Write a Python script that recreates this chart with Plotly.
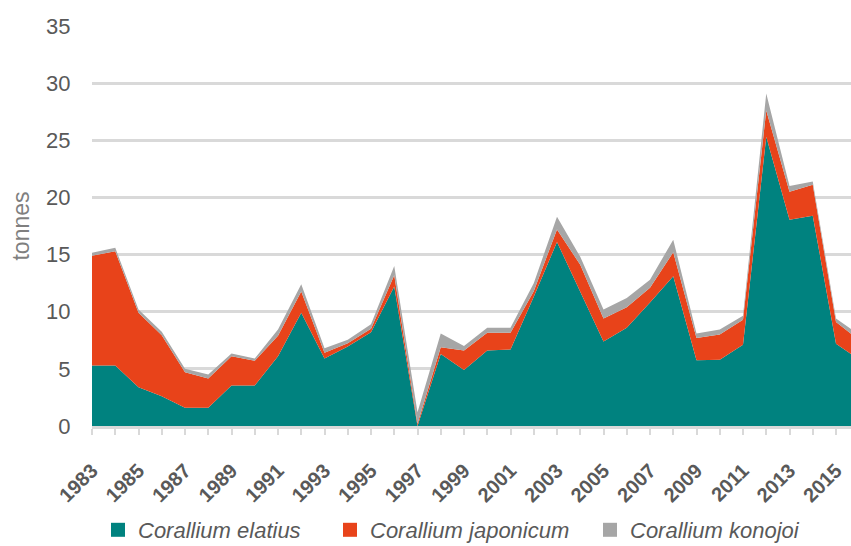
import plotly.graph_objects as go

# Annual red/pink coral landings (tonnes), stacked by species
years = list(range(1983, 2017))
elatius = [5.3, 5.3, 3.4, 2.6, 1.6, 1.6, 3.55, 3.55, 6.1, 9.9,
           5.9, 6.95, 8.2, 12.2, 0.0, 6.3, 4.9, 6.6, 6.7, 11.3,
           16.1, 11.8, 7.4, 8.6, 10.8, 13.1, 5.75, 5.8, 7.1, 25.3,
           18.05, 18.4, 7.2, 5.8]
japonicum = [9.6, 10.0, 6.5, 5.35, 3.1, 2.55, 2.55, 2.15, 1.8, 1.86,
             0.5, 0.3, 0.3, 1.0, 0.2, 0.6, 1.7, 1.55, 1.45, 0.5,
             1.1, 2.3, 2.0, 1.8, 1.3, 2.1, 1.95, 2.2, 2.2, 2.3,
             2.45, 2.7, 1.9, 1.7]
konojoi = [0.25, 0.3, 0.3, 0.3, 0.3, 0.35, 0.25, 0.2, 0.55, 0.65,
           0.4, 0.3, 0.4, 0.8, 1.0, 1.2, 0.4, 0.45, 0.45, 0.7,
           1.1, 0.7, 0.8, 0.8, 0.7, 1.1, 0.4, 0.45, 0.35, 1.5,
           0.5, 0.3, 0.3, 0.5]

series_names = ["Corallium elatius", "Corallium japonicum", "Corallium konojoi"]
series_colors = ["#00827F", "#E8431A", "#A6A6A6"]
label_years = list(range(1983, 2016, 2))
y_ticks = [0, 5, 10, 15, 20, 25, 30, 35]

FONT = "Liberation Sans, Arial, sans-serif"
GREY_TXT = "#595959"
GRID = "#D9D9D9"

fig = go.Figure()
for i, (name, vals, col) in enumerate(zip(series_names, [elatius, japonicum, konojoi], series_colors)):
    fig.add_trace(go.Scatter(
        x=years, y=vals, name=name, mode="lines", stackgroup="one",
        line=dict(width=0, color=col), fillcolor=col, showlegend=False,
        hoverinfo="x+y+name",
    ))
    # square legend swatch, one legend per species
    fig.add_trace(go.Scatter(
        x=[None], y=[None], mode="markers", name=name,
        marker=dict(symbol="square", size=14, color=col),
        legend="legend" if i == 0 else f"legend{i + 1}",
    ))

W, H = 851, 546
x_left, x_right = 92, 851
x_end = 1983 + (x_right - x_left) / 23.25
legend_px = [98, 330, 590]
legend_mid_y = 530
legend_common = dict(
    orientation="h", yref="container", yanchor="middle",
    y=(H - legend_mid_y) / H, xanchor="left",
    font=dict(family=FONT, size=22, color=GREY_TXT, style="italic"),
    bgcolor="rgba(0,0,0,0)", itemwidth=30,
)
leg = {}
for i, px in enumerate(legend_px):
    key = "legend" if i == 0 else f"legend{i + 1}"
    leg[key] = dict(legend_common, x=(px - x_left) / (x_right - x_left))

fig.update_layout(
    width=W, height=H,
    margin=dict(l=x_left, r=0, t=26, b=120),
    paper_bgcolor="white", plot_bgcolor="white",
    font=dict(family=FONT, size=22, color=GREY_TXT),
    xaxis=dict(
        range=[1983, x_end], tickmode="array", tickvals=label_years,
        ticktext=[str(y) for y in label_years], tickangle=-45,
        tickfont=dict(family=FONT, size=20, color=GREY_TXT, weight="bold"),
        ticklabelstandoff=16, automargin=False,
        showgrid=False, zeroline=False,
        showline=True, linecolor=GRID, linewidth=3,
        ticks="outside", ticklen=6, tickwidth=2, tickcolor=GRID,
        minor=dict(tickmode="array", tickvals=years, ticks="outside",
                   ticklen=6, tickwidth=2, tickcolor=GRID, showgrid=False),
    ),
    yaxis=dict(
        range=[0, 35], tickvals=y_ticks, showgrid=True, gridcolor=GRID,
        gridwidth=3, zeroline=False, showline=False, automargin=False,
        ticks="outside", ticklen=16, tickcolor="rgba(0,0,0,0)",
        tickfont=dict(family=FONT, size=22, color=GREY_TXT),
        title=dict(text="tonnes", standoff=10,
                   font=dict(family=FONT, size=23, color="#7F7F7F")),
    ),
    **leg,
)

fig.write_html("out.html")
